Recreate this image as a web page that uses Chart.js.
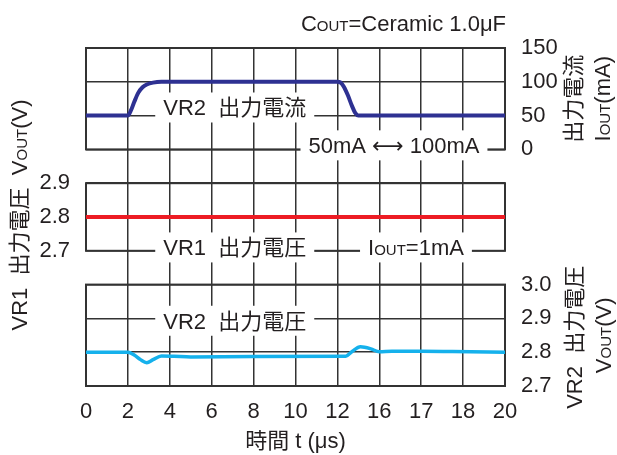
<!DOCTYPE html>
<html>
<head>
<meta charset="utf-8">
<title>VR1 / VR2 負荷過渡応答</title>
<script src="https://cdn.jsdelivr.net/npm/chart.js@4.4.1/dist/chart.umd.min.js"></script>
<style>
  html, body { margin: 0; padding: 0; background: #fff; }
  canvas { display: block; }
</style>
</head>
<body>
<canvas id="myChart" width="617" height="455"></canvas>
<script>
// printed tick labels
const timeTicks = ['0', '2', '4', '6', '8', '10', '12', '16', '17', '18', '20'];
const ioutTicks = [0, 50, 100, 150];
const vr1Ticks = [2.7, 2.8, 2.9];
const vr2Ticks = [2.7, 2.8, 2.9, 3.0];

// VR2 load current, 50mA <-> 100mA step
const ioutTime = [0, 2, 2.15, 2.3, 2.5, 2.7, 2.9, 3.2, 3.6, 12, 12.15, 12.3, 12.5, 12.7, 12.85, 13, 20];
const ioutMA   = [50, 50, 58, 70, 84, 92, 96, 98.8, 100, 100, 99, 93, 80, 64, 54, 50, 50];

// VR1 output voltage (Iout = 1mA)
const vr1Time = [0, 20];
const vr1Volt = [2.8, 2.8];

// VR2 output voltage
const vr2Time = [0, 2, 2.3, 2.6, 2.9, 3.2, 3.6, 4.2, 5, 8, 12.4, 12.7, 13.1, 13.6, 14.0, 14.6, 16, 17.5, 20];
const vr2Volt = [2.8, 2.8, 2.792, 2.778, 2.769, 2.778, 2.789, 2.788, 2.786, 2.787, 2.788, 2.802, 2.816, 2.810, 2.801, 2.803, 2.803, 2.802, 2.800];

const INK = '#231f20';
const GRID = '#333';
const FAMILY = "'Liberation Sans', Arial, 'Noto Sans CJK JP', 'DejaVu Sans', sans-serif";
const BIG = 22;
const SMALL = 15;

// the plot is split in 10 rows: current on rows 0-3, VR1 on 4-6, VR2 on 7-10
const ROWS = 10;
function span(lo, hi, r0, r1) {
  const per = (hi - lo) / (r1 - r0);
  return { lo, hi, min: lo - (ROWS - r1) * per, max: hi + r0 * per };
}
const pI = span(0, 150, 0, 3);
const pV1 = span(2.7, 2.9, 4, 6);
const pV2 = span(2.7, 3.0, 7, 10);

// right axis carries both the current ticks and the VR2 voltage ticks
const rightTicks = [];
const rightLabels = [];
vr2Ticks.forEach(v => {
  rightTicks.push(pI.min + (v - pV2.min) / (pV2.max - pV2.min) * (pI.max - pI.min));
  rightLabels.push(v.toFixed(1));
});
ioutTicks.forEach(v => { rightTicks.push(v); rightLabels.push(String(v)); });

function pts(xs, ys) { return xs.map((x, i) => ({ x, y: ys[i] })); }

// text with "_OUT_" style small caps runs
function runs(ctx, str) {
  const list = str.split('_').map((s, i) => ({ s, font: (i % 2 ? SMALL : BIG) + 'px ' + FAMILY }));
  let w = 0;
  list.forEach(r => { ctx.font = r.font; r.w = ctx.measureText(r.s).width; w += r.w; });
  return { list, w };
}
function drawRich(ctx, str, x, y, align, angle) {
  const r = runs(ctx, str);
  ctx.save();
  ctx.translate(x, y);
  ctx.rotate(angle || 0);
  ctx.fillStyle = INK;
  ctx.textBaseline = 'alphabetic';
  ctx.textAlign = 'left';
  let cx = align === 'right' ? -r.w : (align === 'left' ? 0 : -r.w / 2);
  r.list.forEach(p => { ctx.font = p.font; ctx.fillText(p.s, cx, BIG * 0.36); cx += p.w; });
  ctx.restore();
  return r.w;
}

const panels = [
  { axis: 'yI', p: pI },
  { axis: 'yV1', p: pV1 },
  { axis: 'yV2', p: pV2 }
];

const boxLabels = [
  { text: 'VR2  出力電流', axis: 'yI', t: 7.1, v: 62 },
  { text: '50mA ⟷ 100mA', axis: 'yI', t: 14.7, v: 6 },
  { text: 'VR1  出力電圧', axis: 'yV1', t: 7.1, v: 2.71 },
  { text: 'I_OUT_=1mA', axis: 'yV1', t: 15.75, v: 2.71 },
  { text: 'VR2  出力電圧', axis: 'yV2', t: 7.1, v: 2.893 }
];

const panelDecor = {
  id: 'panelDecor',
  beforeDatasetsDraw(chart) {
    const ctx = chart.ctx;
    const a = chart.chartArea;
    ctx.save();
    ctx.strokeStyle = GRID;
    ctx.lineWidth = 2;
    panels.forEach(pn => {
      const s = chart.scales[pn.axis];
      const top = s.getPixelForValue(pn.p.hi);
      const bottom = s.getPixelForValue(pn.p.lo);
      ctx.strokeRect(a.left, top, a.right - a.left, bottom - top);
    });
    boxLabels.forEach(b => {
      const x = chart.scales.x.getPixelForValue(b.t);
      const y = chart.scales[b.axis].getPixelForValue(b.v);
      const w = runs(ctx, b.text).w + 16;
      ctx.fillStyle = '#fff';
      ctx.fillRect(x - w / 2, y - 15, w, 30);
      drawRich(ctx, b.text, x, y, 'center');
    });
    ctx.restore();
  },
  afterDraw(chart) {
    const ctx = chart.ctx;
    const a = chart.chartArea;
    const up = -Math.PI / 2;
    drawRich(ctx, 'C_OUT_=Ceramic 1.0μF', a.right + 1, 23, 'right');
    drawRich(ctx, 'VR1  出力電圧  V_OUT_(V)', a.left - 67, (a.top + a.bottom) / 2 - 2, 'center', up);
    const yI = chart.scales.yI;
    const cI = (yI.getPixelForValue(pI.lo) + yI.getPixelForValue(pI.hi)) / 2;
    drawRich(ctx, '出力電流', a.right + 68, cI, 'center', up);
    drawRich(ctx, 'I_OUT_(mA)', a.right + 97, cI, 'center', up);
    const yV = chart.scales.yV2;
    const cV = (yV.getPixelForValue(pV2.lo) + yV.getPixelForValue(pV2.hi)) / 2;
    drawRich(ctx, 'VR2  出力電圧', a.right + 69, cV + 2, 'center', up);
    drawRich(ctx, 'V_OUT_(V)', a.right + 98, cV, 'center', up);
  }
};

const tickFont = { family: FAMILY, size: BIG };

const myChart = new Chart(document.getElementById('myChart'), {
  type: 'line',
  data: {
    datasets: [
      { label: 'VR2 出力電流', data: pts(ioutTime, ioutMA), yAxisID: 'yI', borderColor: '#2e3192', borderWidth: 4, cubicInterpolationMode: 'monotone' },
      { label: 'VR1 出力電圧', data: pts(vr1Time, vr1Volt), yAxisID: 'yV1', borderColor: '#ed1c24', borderWidth: 4 },
      { label: 'VR2 出力電圧', data: pts(vr2Time, vr2Volt), yAxisID: 'yV2', borderColor: '#15b1ec', borderWidth: 3.5, cubicInterpolationMode: 'monotone' }
    ]
  },
  options: {
    responsive: false,
    animation: false,
    devicePixelRatio: 1,
    layout: { padding: { top: 48, left: 0, right: 0, bottom: 0 } },
    elements: { point: { radius: 0 }, line: { tension: 0, borderCapStyle: 'butt', borderJoinStyle: 'round' } },
    plugins: { legend: { display: false }, tooltip: { enabled: false } },
    scales: {
      x: {
        type: 'linear',
        min: 0,
        max: 20,
        border: { display: false },
        grid: {
          color: c => (c.tick && (c.tick.value === 0 || c.tick.value === 20)) ? 'rgba(0,0,0,0)' : GRID,
          lineWidth: 1.5,
          drawTicks: false
        },
        ticks: {
          stepSize: 2,
          autoSkip: false,
          maxRotation: 0,
          padding: 13,
          color: INK,
          font: tickFont,
          callback: (v, i) => timeTicks[i]
        },
        title: { display: true, text: '時間 t (μs)', color: INK, font: tickFont, padding: { top: 0, bottom: 0 } },
        afterFit: s => { s.height = 69; }
      },
      yI: {
        position: 'right',
        min: pI.min,
        max: pI.max,
        border: { display: false },
        grid: { color: GRID, lineWidth: 1.5, drawTicks: false },
        afterBuildTicks: s => { s.ticks = rightTicks.map(v => ({ value: v })); },
        ticks: { padding: 16, color: INK, font: tickFont, callback: (v, i) => rightLabels[i] },
        afterFit: s => { s.width = 112; }
      },
      yV1: {
        position: 'left',
        min: pV1.min,
        max: pV1.max,
        border: { display: false },
        grid: { color: GRID, lineWidth: 1.5, drawTicks: false },
        afterBuildTicks: s => { s.ticks = vr1Ticks.map(v => ({ value: v })); },
        ticks: { padding: 16, color: INK, font: tickFont, callback: v => v.toFixed(1) },
        afterFit: s => { s.width = 86; }
      },
      yV2: {
        display: false,
        min: pV2.min,
        max: pV2.max
      }
    }
  },
  plugins: [panelDecor]
});
</script>
</body>
</html>
